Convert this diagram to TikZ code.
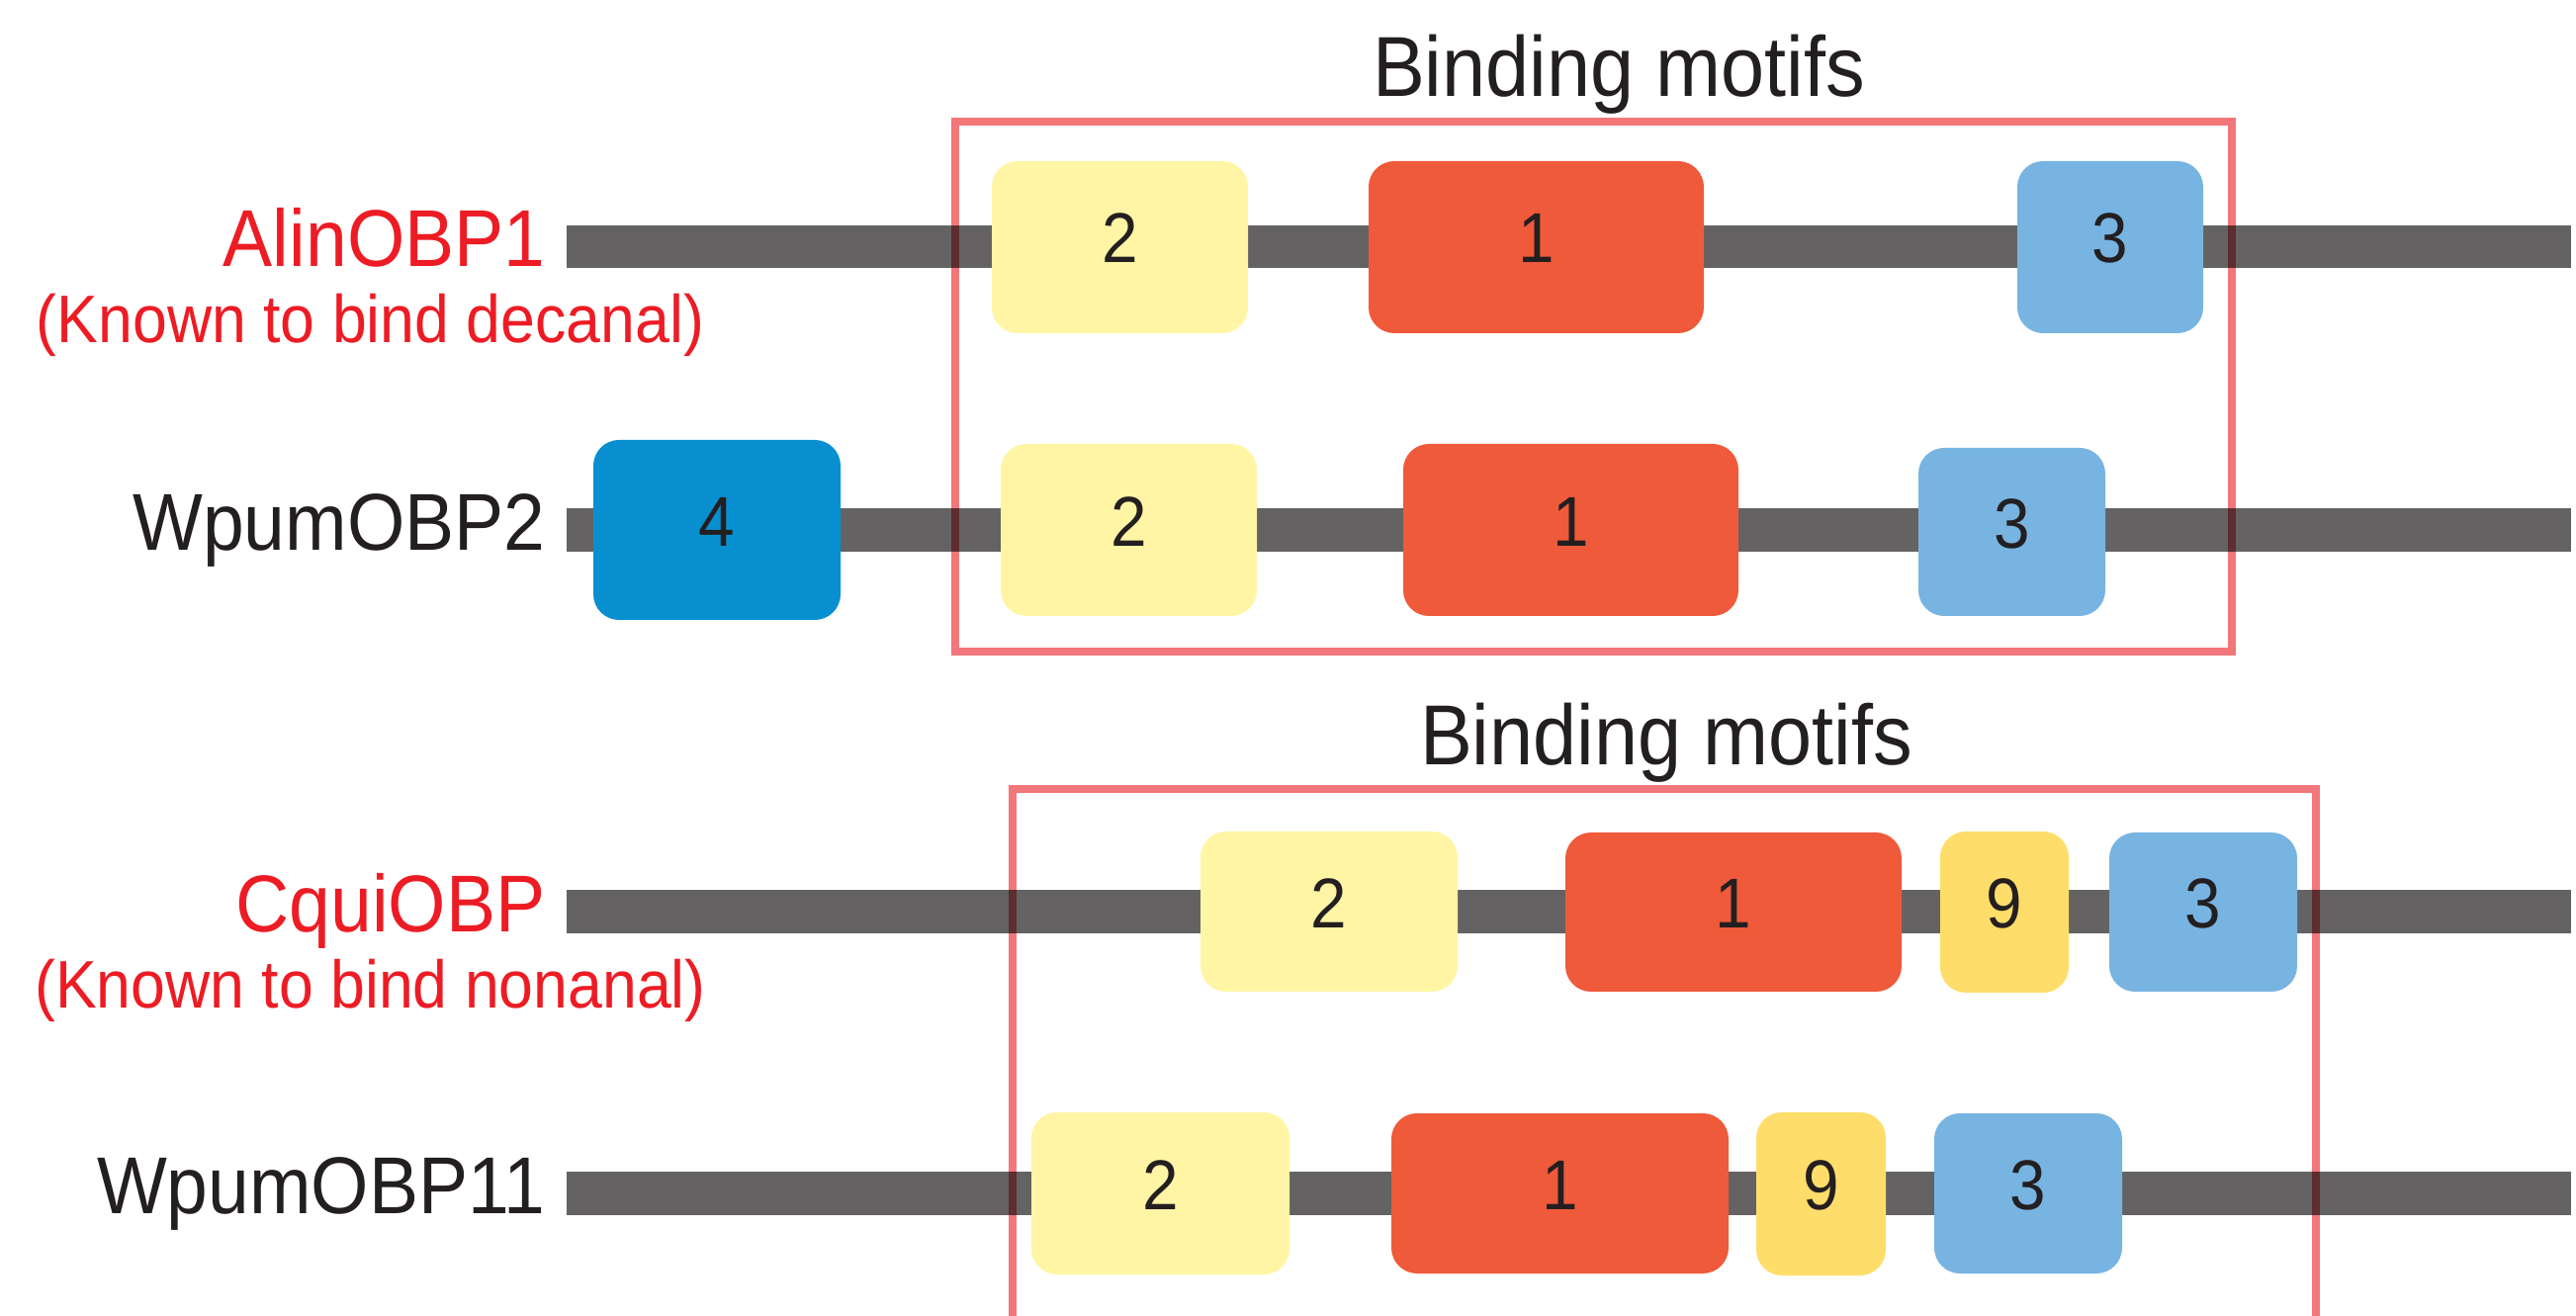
\documentclass[tikz,border=0pt]{standalone}
\usepackage{fontspec}
\setmainfont{Liberation Sans}[FakeStretch=0.92]
\definecolor{bargray}{HTML}{646262}
\definecolor{txt}{HTML}{231F20}
\definecolor{namered}{HTML}{ED1C24}
\definecolor{framered}{HTML}{F2777B}
\definecolor{paleyel}{HTML}{FFF5A5}
\definecolor{motifred}{HTML}{EF5A3A}
\definecolor{lightblue}{HTML}{78B4E2}
\definecolor{darkblue}{HTML}{088FD0}
\definecolor{goldyel}{HTML}{FFDD6A}
\newcommand\motifbox[7]{\node[motif,fill=#6,minimum width={(#4-#2)*0.01cm},minimum height={(#5-#3)*0.01cm}] (#1) at ({(#2+#4)/2},{(#3+#5)/2}) {#7};}
\begin{document}
\begin{tikzpicture}[x=0.01cm,y=-0.01cm,
  bar/.style={line width=0.43cm, draw=bargray},
  motif/.style={rectangle, rounded corners=0.26cm, inner sep=0pt, text=txt,
    font=\fontsize{20.3}{24}\selectfont, text height=0.51cm, text depth=0.19cm},
  frame/.style={draw=framered, line width=0.075cm},
  protname/.style={anchor=base east, inner sep=0pt, font=\fontsize{23.2}{28}\selectfont},
  subname/.style={anchor=base, inner sep=0pt, text=namered, font=\fontsize{19.35}{23}\selectfont},
  titletext/.style={anchor=base, inner sep=0pt, text=txt, font=\fontsize{24.5}{29}\selectfont}]
\useasboundingbox (0,0) rectangle (2605,1331);

% labels
\node[protname, text=namered] (n1) at (552,270) {AlinOBP1};
\node[subname] (s1) at (374.5,347) {(Known to bind decanal)};
\node[protname, text=txt] (n2) at (552,557) {WpumOBP2};
\node[protname, text=namered] (n3) at (552,943) {CquiOBP};
\node[subname] (s3) at (374.5,1020) {(Known to bind nonanal)};
\node[protname, text=txt] (n4) at (552,1228) {WpumOBP11};

% backbones
\coordinate (b1s) at (573,249.5); \coordinate (b1e) at (2600,249.5);
\coordinate (b2s) at (573,536);   \coordinate (b2e) at (2600,536);
\coordinate (b3s) at (573,922);   \coordinate (b3e) at (2600,922);
\coordinate (b4s) at (573,1207);  \coordinate (b4e) at (2600,1207);
\draw[bar] (b1s) -- (b1e);
\draw[bar] (b2s) -- (b2e);
\draw[bar] (b3s) -- (b3e);
\draw[bar] (b4s) -- (b4e);

% row 1
\motifbox{r1a}{1003}{163}{1262}{337}{paleyel}{2}
\motifbox{r1b}{1384}{163}{1723}{337}{motifred}{1}
\motifbox{r1c}{2040}{163}{2228}{337}{lightblue}{3}
% row 2
\motifbox{r2d}{600}{445}{850}{627}{darkblue}{4}
\motifbox{r2a}{1012}{449}{1271}{623}{paleyel}{2}
\motifbox{r2b}{1419}{449}{1758}{623}{motifred}{1}
\motifbox{r2c}{1940}{453}{2129}{623}{lightblue}{3}
% row 3
\motifbox{r3a}{1214}{841}{1474}{1003}{paleyel}{2}
\motifbox{r3b}{1583}{842}{1923}{1003}{motifred}{1}
\motifbox{r3e}{1962}{841}{2092}{1004}{goldyel}{9}
\motifbox{r3c}{2133}{842}{2323}{1003}{lightblue}{3}
% row 4
\motifbox{r4a}{1043}{1125}{1304}{1289}{paleyel}{2}
\motifbox{r4b}{1407}{1126}{1748}{1288}{motifred}{1}
\motifbox{r4e}{1776}{1125}{1907}{1290}{goldyel}{9}
\motifbox{r4c}{1956}{1126}{2146}{1288}{lightblue}{3}

% titles
\node[titletext] (t1) at (1637,98) {Binding motifs};
\node[titletext] (t2) at (1685,774) {Binding motifs};

% frames
\begin{scope}[blend mode=multiply]
\draw[frame] (966,123) rectangle (2257,659);
\draw[frame] (1024,1340) -- (1024,798) -- (2342,798) -- (2342,1340);
\end{scope}
\end{tikzpicture}
\end{document}
